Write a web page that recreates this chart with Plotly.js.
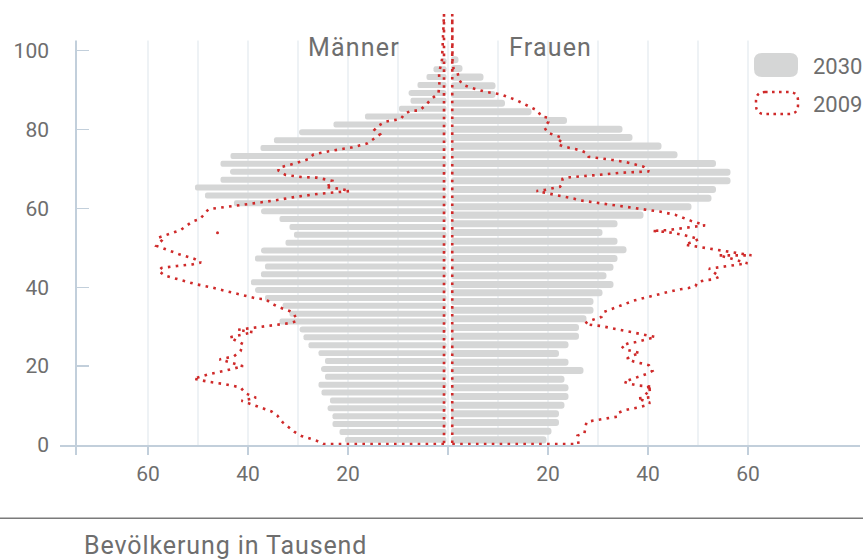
<!DOCTYPE html>
<html><head><meta charset="utf-8">
<script src="https://cdn.plot.ly/plotly-3.0.1.min.js"></script>
<style>html,body{margin:0;padding:0;background:#fff;}#chart{width:863px;height:559px;}</style>
</head><body><div id="chart"></div>
<script>
// ---- data ----
const maleAges = [1.3,3.3,5.3,7.3,9.3,11.3,13.3,15.3,17.3,19.3,21.3,23.3,25.3,27.3,29.3,31.3,33.3,35.3,37.3,39.3,41.3,43.3,45.3,47.3,49.3,51.3,53.3,55.3,57.3,59.3,61.3,63.3,65.3,67.3,69.3,71.3,73.3,75.3,77.3,79.3,81.3,83.3,85.3,87.3,89.3,91.3,93.3,95.3,97.3];
const male2030 = [20.6,21.7,23.1,23.1,24.1,23.6,25.3,25.9,24.6,25.4,24.6,25.9,27.9,28.9,29.7,33.7,31.7,33.1,36.6,38.6,39.4,37.4,36.6,38.6,37.4,32.5,30.8,31.7,33.7,37.4,42.8,48.6,50.6,45.5,43.6,45.5,43.5,37.5,34.8,29.8,22.9,16.6,9.8,7.5,7.9,6.1,4.3,2.9,1.5];
const femaleAges = [1.3,3.5,5.7,7.9,10.1,12.3,14.5,16.7,18.9,21.0,23.2,25.4,27.6,29.8,32.0,34.2,36.4,38.6,40.7,42.9,45.1,47.3,49.5,51.7,53.9,56.1,58.3,60.4,62.6,64.8,67.0,69.2,71.4,73.6,75.8,78.0,80.1,82.3,84.5,86.7,88.9,91.1,93.3,95.5,97.7];
const female2030 = [19.7,20.7,22.2,22.2,23.3,24.1,24.1,23.3,27.1,24.1,22.2,24.1,26.2,26.2,27.7,29.1,29.1,30.9,33.1,31.7,33.1,33.9,35.7,33.9,30.9,33.9,39.1,48.7,52.7,53.6,56.5,56.5,53.6,45.9,42.7,36.9,34.9,23.8,16.7,11.4,9.5,9.5,7.1,2.9,2.1];

const maleAges2009 = [0.25,0.25,1.1,1.6,2.3,3.3,4.6,5.8,7.4,8.5,9.2,9.9,10.6,11.2,12.0,13.1,14.6,15.4,16.0,16.8,18.0,18.8,20.0,21.0,21.7,22.5,23.8,25.6,27.3,28.6,29.2,29.9,30.4,30.9,31.4,33.1,34.0,34.9,35.8,37.0,37.1,38.0,39.0,40.0,40.8,41.9,43.0,44.2,44.9,45.4,45.8,46.3,47.2,48.4,49.8,50.5,51.8,52.5,53.2,54.5,56.7,57.3,59.8,60.4,61.1,61.9,62.9,63.7,64.2,64.4,64.9,65.5,66.2,67.0,67.8,68.0,68.5,69.6,70.3,71.3,72.5,73.7,74.5,75.5,76.5,77.6,78.8,79.9,81.0,82.0,82.7,84.0,84.8,84.8,86.4,87.8,89.2,90.5,92.1,94.3,97.6,109.3,0.25];
const male2009 = [0.8,24.9,26.3,27.7,29.3,30.7,31.9,33.1,34.1,35.3,36.8,38.3,39.9,41.3,38.4,40.5,41.5,44.5,47.7,50.9,47.7,44.7,41.0,44.1,45.7,42.8,41.5,41.0,43.7,39.0,42.1,37.9,34.7,31.7,30.3,30.7,31.7,33.7,35.2,36.5,38.1,41.3,44.3,47.4,50.5,53.6,56.7,57.9,57.3,54.2,51.1,49.4,50.7,53.8,56.8,58.3,57.3,58.1,56.5,53.5,51.1,49.6,47.9,44.7,40.0,35.3,30.6,25.9,21.1,19.6,21.4,24.6,23.1,23.1,26.3,29.5,32.5,33.9,33.9,30.9,27.9,26.9,23.8,19.1,16.1,14.8,13.6,14.7,13.9,12.5,9.4,8.7,7.3,5.7,4.3,3.3,1.9,1.8,1.7,1.8,1.2,0.8,0.8];

const femaleAges2009 = [0.25,0.25,2.4,3.0,4.6,5.8,6.2,6.5,6.8,7.2,8.2,8.8,9.2,9.6,10.2,10.7,11.8,12.1,13.3,13.9,14.1,14.6,14.8,15.1,15.5,16.0,16.6,17.3,18.0,18.8,20.2,20.7,21.2,21.9,22.8,23.3,23.8,24.3,25.1,25.8,26.1,26.6,27.1,27.4,27.8,28.2,28.7,29.0,29.5,29.9,30.2,30.4,30.7,31.3,32.0,32.5,33.7,34.4,35.1,35.9,36.6,37.1,37.7,38.1,38.6,39.1,39.5,39.8,40.3,41.3,41.8,42.0,42.7,44.7,46.1,47.6,48.1,48.1,49.8,50.8,52.2,53.3,54.0,54.3,54.5,55.4,55.7,56.9,58.4,59.2,59.8,60.4,60.8,61.4,62.0,62.5,63.3,64.0,64.4,64.7,65.5,66.4,67.5,67.9,68.2,68.6,69.0,69.3,69.4,70.6,71.6,72.3,72.9,73.1,74.1,74.8,75.7,76.3,77.9,78.5,79.2,80.5,82.0,83.0,83.3,84.8,85.8,87.5,88.9,89.6,90.7,91.4,92.7,94.5,95.5,97.6,109.3,0.25];
const female2009 = [0.85,26.1,25.9,27.3,27.5,27.7,29.1,30.7,32.3,33.9,34.1,35.3,36.7,38.3,39.9,40.4,37.9,40.5,39.5,39.5,41.1,39.4,40.9,37.9,36.4,35.2,36.5,38.1,39.7,40.9,40.2,38.7,37.1,35.8,37.1,38.4,36.9,35.3,34.7,36.1,37.6,39.2,40.7,41.5,39.9,38.3,36.7,35.2,33.7,32.1,30.5,28.9,27.4,27.9,29.3,30.7,31.1,32.5,34.1,35.6,37.1,38.6,40.2,41.8,43.3,44.9,46.5,48.1,49.5,49.9,51.5,53.1,54.3,52.2,59.9,55.7,54.1,60.7,52.3,47.4,50.2,47.1,43.9,40.8,43.9,50.4,51.4,48.5,45.4,42.3,39.1,35.9,32.9,29.7,26.6,25.1,21.9,18.7,17.7,19.4,22.4,22.9,22.9,24.4,27.7,30.9,34.1,37.2,40.2,39.1,36.1,32.9,29.7,28.1,27.7,26.3,23.1,21.9,22.9,21.5,19.9,19.3,20.1,20.1,18.7,17.9,16.4,13.6,10.6,7.4,4.4,2.9,2.2,1.9,1.1,0.9,0.85,0.85];

const strayAges = [53.8, -0.5];
const strayValues = [-46.1, 49.4];

const xTickVals = [-60,-40,-20,0,20,40,60];
const xTickText = ['60','40','20','','20','40','60'];
const yTickVals = [0,20,40,60,80,100];
const gridVals = [-60,-50,-40,-30,-20,-10,0,10,20,30,40,50,60];
const legendLabels = ['2030','2009'];
const sideLabels = ['Männer','Frauen'];
const axisLabel = 'Bevölkerung in Tausend';

// ---- style ----
const RED = '#cf2a2a', GRAY = '#d5d6d6', TXT = '#6e6e6e', AX = '#c2cfdb', GRID = '#e5ebf0';
const FONT = 'Roboto, "Open Sans", sans-serif';
const GAP_M = 0.3, GAP_F = 0.6;
const YAXIS_X = -74.4, GRID_TOP = 102.6;
const ML = 60, MT = 10, PW = 800, PH = 435;
const px2x = p => (p - ML) / PW;
const py2y = p => (MT + PH - p) / PH;
function rr(x0, y0, x1, y1, r) {
  const P = (x, y) => px2x(x).toFixed(5) + ',' + py2y(y).toFixed(5);
  return 'M' + P(x0 + r, y0) + ' L' + P(x1 - r, y0) + ' Q' + P(x1, y0) + ' ' + P(x1, y0 + r) +
    ' L' + P(x1, y1 - r) + ' Q' + P(x1, y1) + ' ' + P(x1 - r, y1) +
    ' L' + P(x0 + r, y1) + ' Q' + P(x0, y1) + ' ' + P(x0, y1 - r) +
    ' L' + P(x0, y0 + r) + ' Q' + P(x0, y0) + ' ' + P(x0 + r, y0) + ' Z';
}
const spaced = (t, s) => '<span style="letter-spacing:' + s + 'px">' + t + '</span>';

const traces = [
  { type: 'bar', orientation: 'h', y: maleAges, x: male2030.map(v => -(v - GAP_M)), base: -GAP_M,
    width: 1.52, marker: { color: GRAY, cornerradius: 3 }, showlegend: false, hoverinfo: 'skip' },
  { type: 'bar', orientation: 'h', y: femaleAges, x: female2030.map(v => v - GAP_F), base: GAP_F,
    width: 1.78, marker: { color: GRAY, cornerradius: 3.5 }, showlegend: false, hoverinfo: 'skip' },
  { type: 'scatter', mode: 'lines', y: maleAges2009, x: male2009.map(v => -v),
    line: { color: RED, width: 2.6, dash: '2.6px,5.3px' }, showlegend: false, cliponaxis: false, hoverinfo: 'skip' },
  { type: 'scatter', mode: 'lines', y: femaleAges2009, x: female2009,
    line: { color: RED, width: 2.6, dash: '2.6px,5.3px' }, showlegend: false, cliponaxis: false, hoverinfo: 'skip' },
  { type: 'scatter', mode: 'markers', y: strayAges, x: strayValues,
    marker: { color: RED, size: 3, symbol: 'circle' }, showlegend: false, cliponaxis: false, hoverinfo: 'skip' }
];

const shapes = [];
gridVals.forEach(g => shapes.push({ type: 'line', layer: 'below', xref: 'x', yref: 'y', x0: g, x1: g, y0: 0, y1: GRID_TOP,
  line: { color: GRID, width: 1.3 } }));
shapes.push({ type: 'rect', layer: 'below', xref: 'paper', yref: 'paper', x0: px2x(738), x1: 1.01, y0: py2y(140), y1: py2y(38),
  fillcolor: '#ffffff', line: { width: 0 } });
shapes.push({ type: 'line', layer: 'above', xref: 'x', yref: 'y', x0: YAXIS_X, x1: YAXIS_X, y0: 0, y1: GRID_TOP,
  line: { color: AX, width: 2 } });
// legend swatches
shapes.push({ type: 'path', xref: 'paper', yref: 'paper', path: rr(754, 53, 798, 77, 8), fillcolor: GRAY, line: { width: 0 } });
shapes.push({ type: 'path', xref: 'paper', yref: 'paper', path: rr(756, 92, 798, 114, 9), fillcolor: 'rgba(0,0,0,0)',
  line: { color: RED, width: 2.5, dash: '2.6px,4.4px' } });
// bottom rule
shapes.push({ type: 'line', xref: 'paper', yref: 'paper', x0: px2x(0), x1: px2x(863), y0: py2y(518.3), y1: py2y(518.3),
  line: { color: '#7a7a7a', width: 1.5 } });

const annotations = [
  { text: spaced(sideLabels[0], 1.2), xref: 'x', yref: 'y', x: -18.8, y: 100.7, xanchor: 'center', yanchor: 'middle', showarrow: false,
    font: { family: FONT, size: 25, color: TXT } },
  { text: spaced(sideLabels[1], 1.2), xref: 'x', yref: 'y', x: 20.4, y: 100.7, xanchor: 'center', yanchor: 'middle', showarrow: false,
    font: { family: FONT, size: 25, color: TXT } },
  { text: legendLabels[0], xref: 'paper', yref: 'paper', x: px2x(811), y: py2y(66), xanchor: 'left', yanchor: 'middle', showarrow: false,
    font: { family: FONT, size: 22, color: TXT } },
  { text: legendLabels[1], xref: 'paper', yref: 'paper', x: px2x(811), y: py2y(104), xanchor: 'left', yanchor: 'middle', showarrow: false,
    font: { family: FONT, size: 22, color: TXT } },
  { text: spaced(axisLabel, 0.9), xref: 'paper', yref: 'paper', x: px2x(82), y: py2y(545), xanchor: 'left', yanchor: 'middle', showarrow: false,
    font: { family: FONT, size: 25, color: TXT } }
];

const layout = {
  width: 863, height: 559,
  margin: { l: ML, r: 863 - ML - PW, t: MT, b: 559 - MT - PH, pad: 0 },
  paper_bgcolor: '#ffffff', plot_bgcolor: 'rgba(0,0,0,0)',
  barmode: 'overlay', showlegend: false,
  xaxis: { range: [-77.6, 82.4], showgrid: false, zeroline: false, showline: true, linecolor: AX, linewidth: 2,
    ticks: 'outside', ticklen: 8, tickwidth: 1.5, tickcolor: AX,
    tickvals: [YAXIS_X].concat(xTickVals), ticktext: [''].concat(xTickText),
    tickfont: { family: FONT, size: 21, color: TXT }, ticklabelstandoff: 1, fixedrange: true },
  yaxis: { range: [0, PH / 3.943], anchor: 'free', position: px2x(76), showgrid: false, zeroline: false, showline: false,
    ticks: 'inside', ticklen: 12, tickwidth: 1.5, tickcolor: AX, tickvals: yTickVals,
    tickfont: { family: FONT, size: 21, color: TXT }, ticklabelstandoff: 27, fixedrange: true },
  shapes: shapes, annotations: annotations
};

Plotly.newPlot('chart', traces, layout, { staticPlot: true, displayModeBar: false });
</script>
</body></html>
